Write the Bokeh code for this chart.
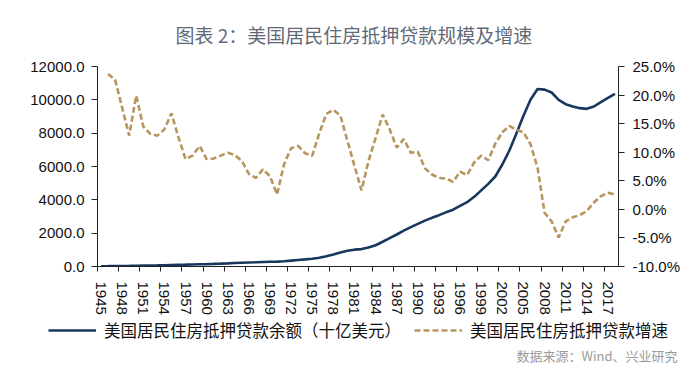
from bokeh.plotting import figure
from bokeh.models import (Range1d, LinearAxis, FixedTicker, PrintfTickFormatter,
                          Title, Label, Legend, LegendItem, ColumnDataSource)
from bokeh.embed import file_html
from bokeh.resources import INLINE

# ---------------- data ----------------
years = list(range(1945, 2019))

balance = [  # 美国居民住房抵押贷款余额（十亿美元）
    19, 23, 28, 34, 38, 46, 53, 60, 67, 77,            # 1945-1954
    90, 101, 110, 120, 133, 145, 158, 173, 190, 208,   # 1955-1964
    225, 239, 252, 270, 285, 293, 316, 350, 389, 427,  # 1965-1974
    467, 529, 617, 724, 843, 940, 1010, 1045, 1134, 1273,  # 1975-1984
    1484, 1700, 1920, 2150, 2360, 2560, 2750, 2920, 3080, 3250,  # 1985-1994
    3410, 3640, 3860, 4180, 4570, 4960, 5400, 6120, 6960, 7980,  # 1995-2004
    9050, 10000, 10650, 10610, 10440, 10000, 9740, 9600, 9500, 9460,  # 2005-2014
    9600, 9860, 10120, 10360,                            # 2015-2018
]

growth = [  # 美国居民住房抵押贷款增速 (%)
    float("nan"), 23.7, 22.7, 17.8, 12.9, 19.9, 14.5, 13.2, 12.9, 14.0,  # 1945-1954
    16.8, 12.6, 8.8, 9.4, 11.1, 8.8, 8.9, 9.4, 9.9, 9.5,                  # 1955-1964
    8.5, 6.2, 5.5, 7.0, 5.8, 2.6, 7.9, 10.7, 11.1, 9.8,                   # 1965-1974
    9.4, 13.3, 16.7, 17.4, 16.4, 12.0, 7.6, 3.3, 8.5, 12.5,               # 1975-1984
    16.6, 14.0, 10.8, 12.3, 9.9, 10.1, 7.2, 6.1, 5.5, 5.4,                # 1985-1994
    4.8, 6.6, 6.0, 8.2, 9.4, 8.6, 11.5, 13.5, 14.6, 13.9,                 # 1995-2004
    13.5, 11.4, 7.3, -0.6, -2.1, -4.9, -2.1, -1.4, -1.0, -0.3,            # 2005-2014
    1.2, 2.3, 2.9, 2.6,                                                   # 2015-2018
]

label_years = list(range(1945, 2018, 3))
left_ticks = [0, 2000, 4000, 6000, 8000, 10000, 12000]
right_ticks = [-10, -5, 0, 5, 10, 15, 20, 25]

title_text = "图表 2：美国居民住房抵押贷款规模及增速"
name_balance = "美国居民住房抵押贷款余额（十亿美元）"
name_growth = "美国居民住房抵押贷款增速"
source_text = "数据来源：Wind、兴业研究"

BLUE = "#17375e"
TAN = "#b8955f"
NAN = float("nan")

# ---------------- main figure ----------------
src = ColumnDataSource(dict(year=years, balance=balance, growth=growth))

p = figure(frame_width=521, frame_height=200, output_backend="svg",
           toolbar_location=None,
           x_range=Range1d(years[0] - 0.5, years[-1] + 0.5),
           y_range=Range1d(0, 12000),
           min_border_left=97, min_border_right=82,
           min_border_top=66, min_border_bottom=46)
p.extra_y_ranges = {"pct": Range1d(-10, 25)}
p.outline_line_color = None
p.xgrid.visible = False
p.ygrid.visible = False
p.background_fill_color = "white"
p.border_fill_color = "white"

tick_font = "Liberation Sans"
axis_col = "#222222"

# x axis
xa = p.xaxis[0]
xa.ticker = FixedTicker(ticks=label_years,
                        minor_ticks=[y - 0.5 for y in range(1945, 2018, 3)])
xa.major_label_orientation = "vertical"
xa.major_tick_out = 0
xa.major_tick_in = 0
xa.minor_tick_out = 5
xa.minor_tick_in = 0
xa.major_label_standoff = 10
xa.major_label_text_font = tick_font
xa.major_label_text_font_size = "15px"
xa.major_label_text_color = "#111111"
xa.axis_line_color = axis_col
xa.minor_tick_line_color = axis_col

# left axis
ya = p.yaxis[0]
ya.ticker = FixedTicker(ticks=left_ticks)
ya.formatter = PrintfTickFormatter(format="%.1f")
ya.major_tick_out = 6
ya.major_tick_in = 0
ya.minor_tick_line_color = None
ya.major_label_standoff = 7
ya.major_label_text_font = tick_font
ya.major_label_text_font_size = "15px"
ya.major_label_text_color = "#111111"
ya.axis_line_color = axis_col
ya.major_tick_line_color = axis_col

# right axis
ra = LinearAxis(y_range_name="pct", ticker=FixedTicker(ticks=right_ticks),
                formatter=PrintfTickFormatter(format="%.1f%%"))
ra.major_tick_out = 6
ra.major_tick_in = 0
ra.minor_tick_line_color = None
ra.major_label_standoff = 8
ra.major_label_text_font = tick_font
ra.major_label_text_font_size = "15px"
ra.major_label_text_color = "#111111"
ra.axis_line_color = axis_col
ra.major_tick_line_color = axis_col
p.add_layout(ra, "right")

# lines
r_bal = p.line("year", "balance", source=src, line_color=BLUE, line_width=2.6)
r_gr = p.line("year", "growth", source=src, y_range_name="pct",
              line_color=TAN, line_width=2.6, line_dash="6 3")

# title (above)
p.add_layout(Title(text=title_text, align="left", offset=78, standoff=37,
                   text_font="Noto Sans CJK SC", text_font_size="19px",
                   text_font_style="normal", text_color="#5f6a78"), "above")

# ---------------- legend / source strip (separate root) ----------------
q = figure(width=700, height=58, output_backend="svg", toolbar_location=None,
           x_range=Range1d(0, 700), y_range=Range1d(0, 58),
           x_axis_location=None, y_axis_location=None,
           min_border_left=0, min_border_right=0, min_border_top=0,
           min_border_bottom=0)
q.xgrid.visible = False
q.ygrid.visible = False
q.outline_line_color = None
q.background_fill_color = "white"
q.border_fill_color = "white"

# legend proxies (placeholders only, nothing drawn)
pb = q.line(x=[NAN], y=[NAN], line_color=BLUE, line_width=2.6)
pg = q.line(x=[NAN], y=[NAN], line_color=TAN, line_width=2.6, line_dash="6 3")

leg = Legend(items=[LegendItem(label=name_balance, renderers=[pb]),
                    LegendItem(label=name_growth, renderers=[pg])],
             location=(48, 33), orientation="horizontal",
             glyph_width=48, glyph_height=20, label_height=20, label_standoff=8,
             padding=0, margin=0, spacing=13,
             border_line_color=None, background_fill_alpha=0,
             label_text_font="Noto Sans CJK SC", label_text_font_size="16.5px",
             label_text_color="#111111")
q.add_layout(leg)

q.add_layout(Label(x=677, y=20, x_units="screen", y_units="screen",
                   text=source_text, text_align="right", text_baseline="middle",
                   text_font="Noto Sans CJK SC", text_font_size="13px",
                   text_color="#9a9a9a"))

open("out.html", "w").write(file_html([p, q], INLINE))
